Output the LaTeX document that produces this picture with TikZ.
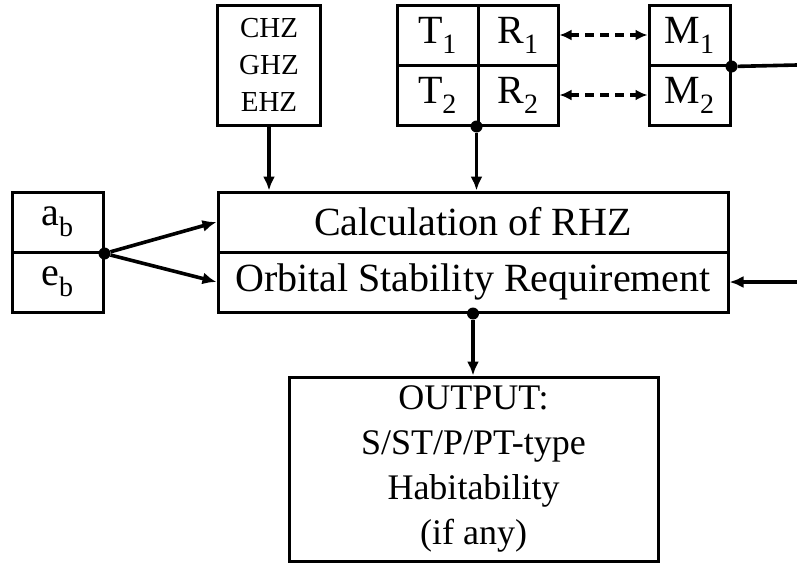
\documentclass[tikz,border=0pt]{standalone}
\usepackage{fontspec}
\setmainfont{Liberation Serif}
\usetikzlibrary{arrows.meta}
\tikzset{
  cell/.style={draw, line width=3pt, inner sep=0pt, align=center, font=\fontsize{40}{46}\selectfont},
  wire/.style={line width=3.6pt},
  conn/.style={wire, -{Latex[length=14pt,width=12pt]}},
  dot/.style={circle, fill=black, inner sep=0pt, minimum size=12pt}
}

\begin{document}
\begin{tikzpicture}[x=1pt,y=1pt,yscale=-1,xscale=1]
\path[use as bounding box] (0,0) rectangle (797,565);

%Shape: Rectangle [id:zones]
\node [cell, minimum width=103, minimum height=120, font=\fontsize{29}{37}\selectfont] (zones) at (269,65) {CHZ\\GHZ\\EHZ};
%Shape: Rectangles [id:stars]
\node [cell, minimum width=81, minimum height=60] (T1) at (437.5,35) {T\textsubscript{1}};
\node [cell, minimum width=80, minimum height=60] (R1) at (518,35) {R\textsubscript{1}};
\node [cell, minimum width=81, minimum height=60] (T2) at (437.5,95) {T\textsubscript{2}};
\node [cell, minimum width=80, minimum height=60] (R2) at (518,95) {R\textsubscript{2}};
%Shape: Rectangles [id:masses]
\node [cell, minimum width=81, minimum height=60] (M1) at (689.5,35) {M\textsubscript{1}};
\node [cell, minimum width=81, minimum height=60] (M2) at (689.5,95) {M\textsubscript{2}};
%Shape: Rectangles [id:orbit]
\node [cell, minimum width=91, minimum height=60] (ab) at (57.5,222) {a\textsubscript{b}};
\node [cell, minimum width=91, minimum height=60] (eb) at (57.5,282) {e\textsubscript{b}};
%Shape: Rectangles [id:main]
\node [cell, minimum width=510, minimum height=60] (calc) at (473,222) {Calculation of RHZ};
\node [cell, minimum width=510, minimum height=60] (stab) at (473,282) {Orbital Stability Requirement};
%Shape: Rectangle [id:output]
\node [cell, minimum width=369, minimum height=184, font=\fontsize{36}{45}\selectfont] (out) at (473.5,469) {OUTPUT:\\S/ST/P/PT-type\\Habitability\\(if any)};

% Junction dots
\node [dot] (jstar) at (R2.south west) {};
\node [dot] (jmass) at (M1.south east) {};
\node [dot] (jorb) at (ab.south east) {};
\node [dot] (jmain) at (stab.south) {};
\coordinate (mend) at (797,65);
\coordinate (rin) at (797,282);

% Connectors
\draw [conn] (zones.south) -- (calc.north -| zones.south);
\draw [conn] (jstar) -- (calc.north -| jstar);
\draw [wire] (jmass) -- (mend);
\draw [conn] (rin) -- (stab.east);
\draw [conn] (jorb) -- (calc.west);
\draw [conn] (jorb) -- (stab.west);
\draw [conn] (jmain) -- (out.north -| jmain);
\draw [wire, {Latex[length=12pt,width=11pt]}-{Latex[length=12pt,width=11pt]}, dash pattern=on 9pt off 6pt] (R1.east) -- (M1.west);
\draw [wire, {Latex[length=12pt,width=11pt]}-{Latex[length=12pt,width=11pt]}, dash pattern=on 9pt off 6pt] (R2.east) -- (M2.west);

\end{tikzpicture}
\end{document}
